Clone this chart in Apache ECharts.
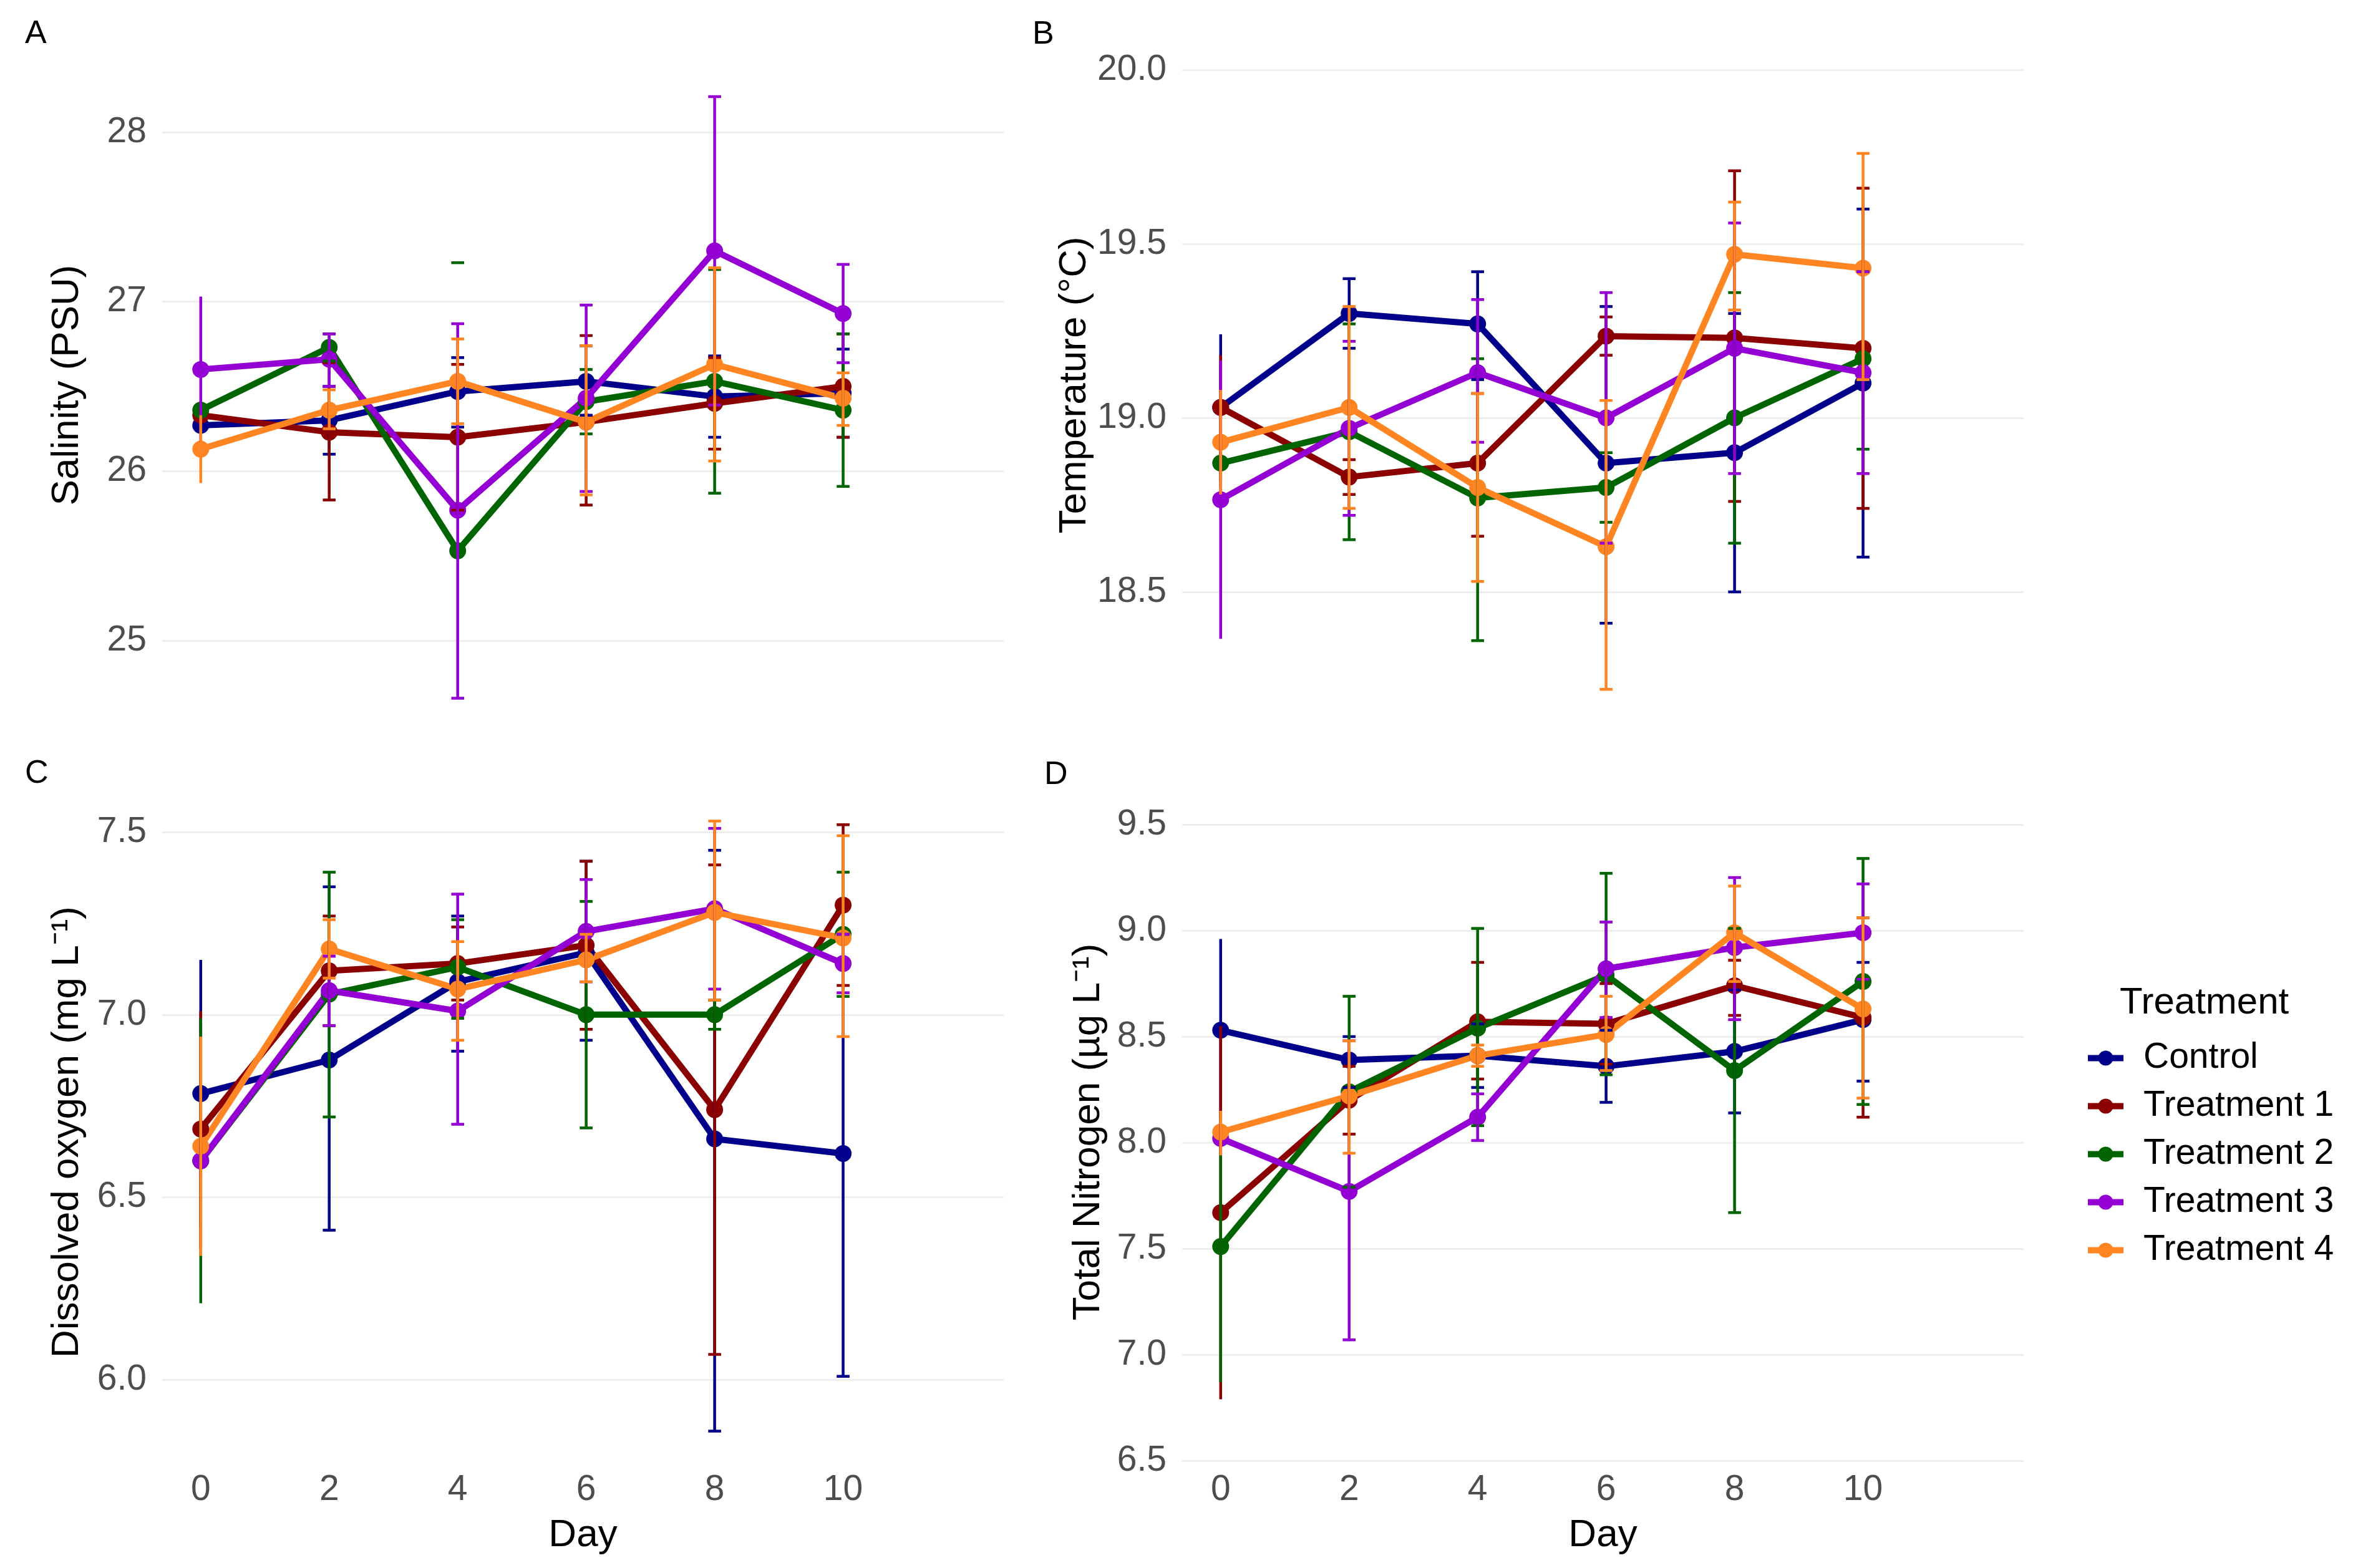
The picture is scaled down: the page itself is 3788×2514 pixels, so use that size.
<!DOCTYPE html>
<html><head><meta charset="utf-8">
<script src="https://cdn.jsdelivr.net/npm/echarts@6/dist/echarts.min.js"></script>
<style>html,body{margin:0;padding:0;background:#fff}#chart{width:3788px;height:2514px}</style>
</head><body><div id="chart"></div><script>
// ---------------- data ----------------
const DAYS = [0, 2, 4, 6, 8, 10];
const DAY_TICKS = [0, 2, 4, 6, 8, 10];
const TREATMENTS = ['Control', 'Treatment 1', 'Treatment 2', 'Treatment 3', 'Treatment 4'];

// Salinity (PSU) — rows: Control, T1, T2, T3, T4
const salinityMean = [
  [26.27, 26.30, 26.47, 26.53, 26.44, 26.46],
  [26.33, 26.23, 26.20, 26.29, 26.40, 26.50],
  [26.36, 26.73, 25.53, 26.41, 26.53, 26.36],
  [26.60, 26.66, 25.77, 26.43, 27.30, 26.93],
  [26.13, 26.36, 26.53, 26.29, 26.63, 26.43]
];
const salinityLow = [
  [26.23, 26.10, 26.26, 26.33, 26.20, 26.20],
  [26.29, 25.83, 25.77, 25.80, 26.13, 26.20],
  [26.31, 26.65, 23.83, 26.22, 25.87, 25.91],
  [26.17, 26.50, 24.66, 25.88, 26.39, 26.64],
  [25.93, 26.25, 26.28, 25.86, 26.06, 26.27]
];
const salinityHigh = [
  [26.31, 26.50, 26.67, 26.74, 26.68, 26.72],
  [26.37, 26.64, 26.63, 26.80, 26.67, 26.81],
  [26.41, 26.81, 27.23, 26.60, 27.19, 26.81],
  [27.03, 26.81, 26.87, 26.98, 28.21, 27.22],
  [26.33, 26.48, 26.78, 26.74, 27.20, 26.58]
];
const salinityTicks = [25, 26, 27, 28];

// Temperature (°C)
const temperatureMean = [
  [19.03, 19.30, 19.27, 18.87, 18.90, 19.10],
  [19.03, 18.83, 18.87, 19.235, 19.23, 19.20],
  [18.87, 18.96, 18.77, 18.80, 19.00, 19.17],
  [18.765, 18.97, 19.13, 19.00, 19.20, 19.13],
  [18.93, 19.03, 18.80, 18.63, 19.47, 19.43]
];
const temperatureLow = [
  [18.82, 19.20, 19.11, 18.41, 18.50, 18.60],
  [18.89, 18.78, 18.66, 19.18, 18.76, 18.74],
  [18.80, 18.65, 18.36, 18.70, 18.64, 18.91],
  [18.365, 18.72, 18.93, 18.64, 18.84, 18.84],
  [18.78, 18.74, 18.53, 18.22, 19.31, 19.11]
];
const temperatureHigh = [
  [19.24, 19.40, 19.42, 19.32, 19.30, 19.60],
  [19.18, 18.88, 19.07, 19.29, 19.71, 19.66],
  [18.94, 19.27, 19.17, 18.90, 19.36, 19.42],
  [19.165, 19.22, 19.34, 19.36, 19.56, 19.42],
  [19.08, 19.32, 19.07, 19.05, 19.62, 19.76]
];
const temperatureTicks = [18.5, 19.0, 19.5, 20.0];

// Dissolved oxygen (mg L-1)
const oxygenMean = [
  [6.784, 6.876, 7.09, 7.17, 6.66, 6.62],
  [6.687, 7.12, 7.14, 7.19, 6.74, 7.30],
  [6.60, 7.056, 7.13, 7.00, 7.00, 7.22],
  [6.60, 7.066, 7.01, 7.228, 7.29, 7.14],
  [6.64, 7.18, 7.07, 7.15, 7.28, 7.21]
];
const oxygenLow = [
  [6.42, 6.41, 6.90, 6.93, 5.86, 6.01],
  [6.36, 6.97, 7.04, 6.96, 6.07, 7.08],
  [6.21, 6.72, 6.99, 6.69, 6.96, 7.05],
  [6.55, 6.97, 6.70, 7.09, 7.07, 7.06],
  [6.34, 7.10, 6.93, 7.09, 7.04, 6.94]
];
const oxygenHigh = [
  [7.15, 7.35, 7.27, 7.42, 7.45, 7.22],
  [7.01, 7.27, 7.24, 7.42, 7.41, 7.52],
  [6.99, 7.39, 7.26, 7.31, 7.04, 7.39],
  [6.65, 7.16, 7.33, 7.37, 7.51, 7.22],
  [6.94, 7.26, 7.20, 7.22, 7.53, 7.49]
];
const oxygenTicks = [6.0, 6.5, 7.0, 7.5];

// Total Nitrogen (µg L-1)
const nitrogenMean = [
  [8.53, 8.39, 8.41, 8.36, 8.43, 8.58],
  [7.67, 8.20, 8.57, 8.56, 8.74, 8.59],
  [7.51, 8.24, 8.54, 8.79, 8.34, 8.76],
  [8.02, 7.77, 8.12, 8.82, 8.92, 8.99],
  [8.05, 8.22, 8.41, 8.51, 8.99, 8.63]
];
const nitrogenLow = [
  [8.10, 8.26, 8.26, 8.19, 8.14, 8.29],
  [6.79, 8.04, 8.30, 8.37, 8.60, 8.12],
  [6.87, 7.79, 8.08, 8.32, 7.67, 8.18],
  [7.95, 7.07, 8.01, 8.59, 8.58, 8.77],
  [7.94, 7.95, 8.36, 8.34, 8.76, 8.21]
];
const nitrogenHigh = [
  [8.96, 8.50, 8.56, 8.53, 8.72, 8.85],
  [8.55, 8.36, 8.85, 8.75, 8.86, 9.06],
  [8.15, 8.69, 9.01, 9.27, 9.01, 9.34],
  [8.09, 8.48, 8.23, 9.04, 9.25, 9.22],
  [8.15, 8.48, 8.46, 8.69, 9.21, 9.06]
];
const nitrogenTicks = [6.5, 7.0, 7.5, 8.0, 8.5, 9.0, 9.5];

// ---------------- style / layout ----------------
const COLORS = ['#00008B', '#8B0000', '#006400', '#9400D3', '#FF8522'];
const FONT = '"Liberation Sans", Arial, Helvetica, sans-serif';
const CAP_HALF = 0.1;      // errorbar width 0.2 day
const X_SCALE_MIN = 0;     // x scale limit (caps crossing it are dropped)

const PANELS = [
  { letter: 'A', mean: salinityMean, low: salinityLow, high: salinityHigh, ticks: salinityTicks, dec: 0,
    title: 'Salinity (PSU)', left: 260, top: 60, height: 1115, yMin: 24.4557, yMax: 28.5594, nameGap: 152,
    lx: 40, ly: 56, bottomRow: false },
  { letter: 'B', mean: temperatureMean, low: temperatureLow, high: temperatureHigh, ticks: temperatureTicks, dec: 1,
    title: 'Temperature (°C)', left: 1895, top: 60, height: 1115, yMin: 18.0950, yMax: 20.0932, nameGap: 172,
    lx: 1655, ly: 57, bottomRow: false },
  { letter: 'C', mean: oxygenMean, low: oxygenLow, high: oxygenHigh, ticks: oxygenTicks, dec: 1,
    title: 'Dissolved oxygen (mg L\u207B\u00B9)', left: 260, top: 1280, height: 1070, yMin: 5.7653, yMax: 7.5922, nameGap: 152,
    lx: 40, ly: 1242, bottomRow: true },
  { letter: 'D', mean: nitrogenMean, low: nitrogenLow, high: nitrogenHigh, ticks: nitrogenTicks, dec: 1,
    title: 'Total Nitrogen (\u00B5g L\u207B\u00B9)', left: 1895, top: 1280, height: 1070, yMin: 6.4765, yMax: 9.6235, nameGap: 150,
    lx: 1674, ly: 1244, bottomRow: true }
];
const GRID_W = 1349;

function renderErrorBar(params, api) {
  const x = api.value(0), lo = api.value(1), hi = api.value(2);
  const cs = params.coordSys;
  const inY = (py) => py >= cs.y - 0.5 && py <= cs.y + cs.height + 0.5;
  const pTop = api.coord([x, hi]);
  const pBot = api.coord([x, lo]);
  const half = api.size([CAP_HALF, 0])[0];
  const style = { stroke: api.visual('color'), lineWidth: 4.5, fill: null };
  const caps = (x - CAP_HALF) >= X_SCALE_MIN;
  const topIn = inY(pTop[1]), botIn = inY(pBot[1]);
  const children = [];
  if (topIn && botIn) children.push({ type: 'line', shape: { x1: pTop[0], y1: pTop[1], x2: pBot[0], y2: pBot[1] }, style });
  if (caps && topIn) children.push({ type: 'line', shape: { x1: pTop[0] - half, y1: pTop[1], x2: pTop[0] + half, y2: pTop[1] }, style });
  if (caps && botIn) children.push({ type: 'line', shape: { x1: pBot[0] - half, y1: pBot[1], x2: pBot[0] + half, y2: pBot[1] }, style });
  return { type: 'group', children };
}

const grids = [], xAxes = [], yAxes = [], lineSeries = [], errSeries = [], graphics = [];
PANELS.forEach((p, pi) => {
  grids.push({ left: p.left, top: p.top, width: GRID_W, height: p.height, containLabel: false });
  xAxes.push({
    type: 'value', gridIndex: pi, min: -0.6, max: 12.5,
    axisLine: { show: false }, splitLine: { show: false },
    axisTick: { show: false, customValues: DAY_TICKS },
    axisLabel: { show: p.bottomRow, customValues: DAY_TICKS, margin: 39, verticalAlign: 'middle',
      fontSize: 57, color: '#4D4D4D', fontFamily: FONT },
    name: p.bottomRow ? 'Day' : '', nameLocation: 'middle', nameGap: 112,
    nameTextStyle: { fontSize: 62, color: '#000', fontFamily: FONT, verticalAlign: 'middle', align: 'center' }
  });
  yAxes.push({
    type: 'value', gridIndex: pi, min: p.yMin, max: p.yMax,
    axisLine: { show: false },
    axisTick: { show: false, customValues: p.ticks },
    splitLine: { show: true, lineStyle: { color: '#EBEBEB', width: 2.5 } },
    axisLabel: { customValues: p.ticks, margin: 25, fontSize: 57, color: '#4D4D4D', fontFamily: FONT,
      formatter: (v) => Number(v).toFixed(p.dec) },
    name: p.title, nameLocation: 'middle', nameRotate: 90, nameGap: p.nameGap,
    nameTextStyle: { fontSize: 62, color: '#000', fontFamily: FONT, verticalAlign: 'middle', align: 'center' }
  });
  TREATMENTS.forEach((t, ti) => {
    lineSeries.push({
      type: 'line', name: t, xAxisIndex: pi, yAxisIndex: pi,
      data: DAYS.map((d, i) => [d, p.mean[ti][i]]),
      symbol: 'circle', symbolSize: 27, showSymbol: true,
      lineStyle: { width: 10, color: COLORS[ti] }, itemStyle: { color: COLORS[ti] },
      z: 2, emphasis: { disabled: true }, silent: true
    });
    errSeries.push({
      type: 'custom', name: t, xAxisIndex: pi, yAxisIndex: pi,
      data: DAYS.map((d, i) => [d, p.low[ti][i], p.high[ti][i]]),
      encode: { x: 0, y: [1, 2] },
      renderItem: renderErrorBar, itemStyle: { color: COLORS[ti] },
      z: 3, silent: true, clip: false
    });
  });
  graphics.push({ type: 'text', left: p.lx, top: p.ly - 27,
    style: { text: p.letter, fontSize: 52, fill: '#000', fontFamily: FONT } });
});

graphics.push({ type: 'text', left: 3398, top: 1608 - 30,
  style: { text: 'Treatment', fontSize: 60, fill: '#000', fontFamily: FONT } });

const chart = echarts.init(document.getElementById('chart'), null, { renderer: 'canvas' });
chart.setOption({
  animation: false,
  backgroundColor: '#fff',
  grid: grids, xAxis: xAxes, yAxis: yAxes,
  legend: {
    orient: 'vertical', left: 3337, top: 1663,
    data: TREATMENTS, itemWidth: 57, itemHeight: 30, itemGap: 20,
    selectedMode: false,
    lineStyle: { width: 10 },
    textStyle: { fontSize: 57, color: '#000', fontFamily: FONT, lineHeight: 57, padding: [0, 0, 0, 27] }
  },
  graphic: graphics,
  series: lineSeries.concat(errSeries)
});
</script></body></html>
